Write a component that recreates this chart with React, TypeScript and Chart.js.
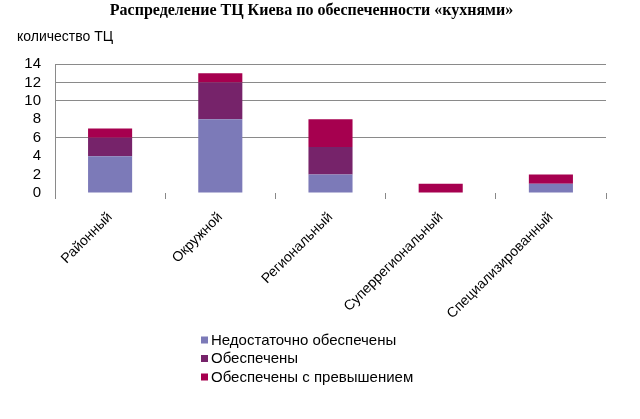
import React, { useEffect, useRef } from "react";
import { Chart, registerables } from "chart.js";

Chart.register(...registerables);

const categories = ["Районный", "Окружной", "Региональный", "Суперрегиональный", "Специализированный"];
const insufficient = [4, 8, 2, 0, 1];
const provided = [2, 4, 3, 0, 0];
const excess = [1, 1, 3, 1, 1];
const seriesNames = ["Недостаточно обеспечены", "Обеспечены", "Обеспечены с превышением"];
const seriesColors = ["#7c7ab8", "#76236a", "#a6004f"];
const yMax = 14;
const yStep = 2;
const visibleGrid = [6, 10, 12, 14];

const FONT = "'Liberation Sans', Arial, sans-serif";

const vLegend = {
  id: "vLegend",
  afterDraw(chart: any) {
    const ctx = chart.ctx;
    const ds = chart.data.datasets;
    ctx.save();
    ctx.font = `15px ${FONT}`;
    ctx.textBaseline = "middle";
    ctx.textAlign = "left";
    const baseY = chart.height - 79;
    ds.forEach((d: any, i: number) => {
      const y = baseY + i * 18.5;
      ctx.fillStyle = d.backgroundColor;
      ctx.fillRect(201, y - 3.5, 7, 7);
      ctx.fillStyle = "#000";
      ctx.fillText(d.label, 211, y + 0.5);
    });
    ctx.restore();
  },
};

export default function App() {
  const ref = useRef<HTMLCanvasElement>(null);
  useEffect(() => {
    const values = [insufficient, provided, excess];
    const chart = new Chart(ref.current!, {
      type: "bar",
      data: {
        labels: categories,
        datasets: values.map((v, i) => ({
          label: seriesNames[i],
          data: v,
          backgroundColor: seriesColors[i],
          borderWidth: 0,
          barPercentage: 0.4,
          categoryPercentage: 1,
        })),
      },
      plugins: [vLegend],
      options: {
        responsive: false,
        animation: false,
        devicePixelRatio: 1,
        layout: { padding: { left: 17, right: 34, top: 0, bottom: 66 } },
        plugins: {
          legend: { display: false },
          tooltip: { enabled: false },
          title: {
            display: true,
            text: "Распределение ТЦ Киева по обеспеченности «кухнями»",
            color: "#000",
            font: { family: "'Liberation Serif', 'Times New Roman', serif", size: 16, weight: "bold" },
            padding: { top: 1, bottom: 9 },
          },
          subtitle: {
            display: true,
            text: "количество ТЦ",
            align: "start",
            color: "#000",
            font: { family: FONT, size: 14 },
            padding: { top: 0, bottom: 18 },
          },
        },
        scales: {
          x: {
            stacked: true,
            afterFit: (s: any) => {
              s.height = 160;
            },
            grid: {
              offset: true,
              drawOnChartArea: false,
              drawTicks: true,
              tickLength: 6,
              color: "#888",
            },
            border: { display: false },
            ticks: {
              autoSkip: false,
              maxRotation: 45,
              minRotation: 45,
              padding: 10,
              color: "#000",
              font: { family: FONT, size: 14 },
            },
          },
          y: {
            stacked: true,
            min: 0,
            max: yMax,
            afterFit: (s: any) => {
              s.width = 38;
            },
            grid: {
              drawTicks: false,
              color: (c: any) => (visibleGrid.includes(c.tick?.value) ? "#8a8a8a" : "rgba(0,0,0,0)"),
            },
            border: { display: true, color: "#8a8a8a" },
            ticks: {
              stepSize: yStep,
              autoSkip: false,
              padding: 14,
              color: "#000",
              font: { family: FONT, size: 15 },
            },
          },
        },
      },
    } as any);
    return () => chart.destroy();
  }, []);
  return (
    <div style={{ position: "fixed", left: 0, top: 0, width: 640, height: 419, background: "#fff" }}>
      <canvas ref={ref} width={640} height={419} style={{ display: "block" }} />
    </div>
  );
}
